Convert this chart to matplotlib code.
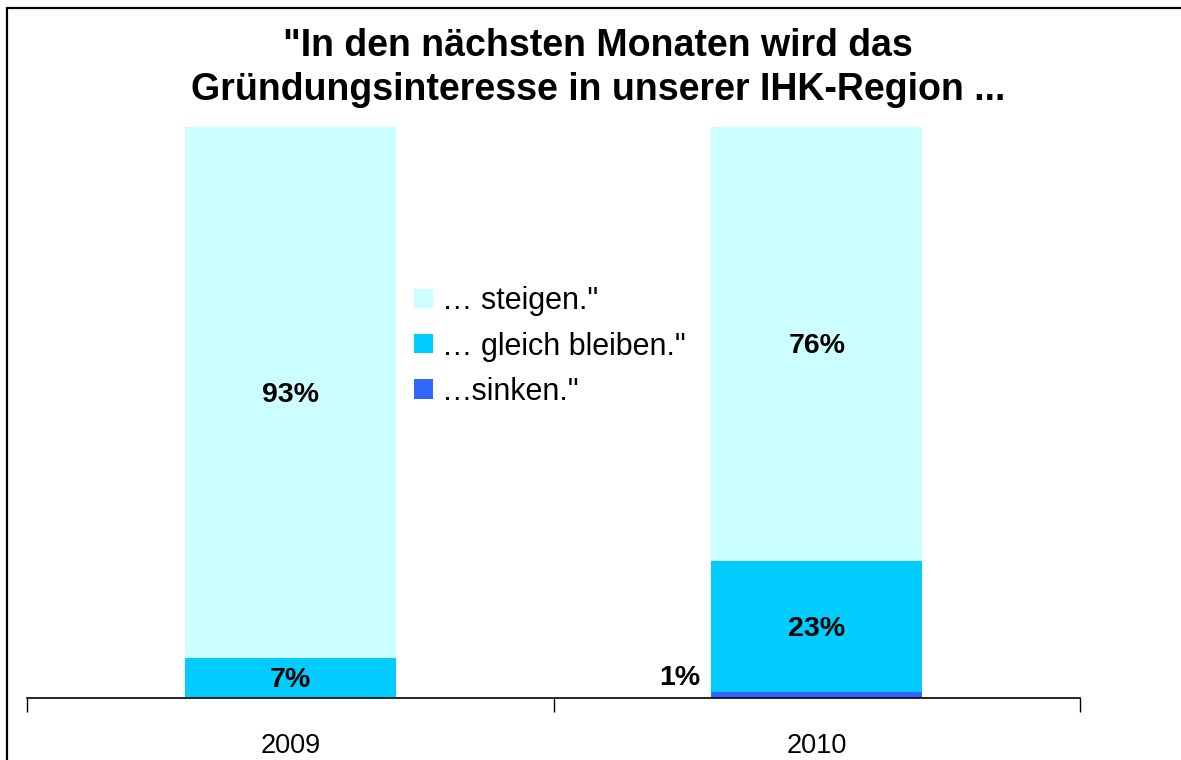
import matplotlib
matplotlib.use("Agg")
import matplotlib.pyplot as plt
import matplotlib.patches as mpatches
import matplotlib.transforms as mtrans
import numpy as np

plt.rcParams['font.family'] = ['Liberation Sans', 'DejaVu Sans']

categories = ["2009", "2010"]
series_names = ['…sinken."', '… gleich bleiben."', '… steigen."']
sinken = [0, 1]
gleich = [7, 23]
steigen = [93, 76]
colors = ["#3366FF", "#00CCFF", "#CCFFFF"]
title = '"In den nächsten Monaten wird das\nGründungsinteresse in unserer IHK-Region ...'

W, H = 1181, 760
fig = plt.figure(figsize=(W / 100, H / 100), dpi=100)
ax = fig.add_axes([27 / W, 1 - 698 / H, (1080 - 27) / W, (698 - 127) / H])

x = np.arange(len(categories))
width = 0.4
values = [sinken, gleich, steigen]
bottom = np.zeros(len(categories))
handles = []
for name, vals, col in zip(series_names, values, colors):
    vals = np.array(vals, dtype=float)
    bars = ax.bar(x, vals, width, bottom=bottom, color=col, edgecolor='none', label=name)
    handles.append(bars)
    for i, (v, b) in enumerate(zip(vals, bottom)):
        if v <= 0:
            continue
        if v < 3:
            # small segment: label sits left of the bar
            off = mtrans.offset_copy(ax.transData, fig=fig, x=-8, y=10, units='points')
            ax.text(x[i] - width / 2, b + v, f"{int(v)}%", transform=off,
                    ha='right', va='center', fontsize=20.5, fontweight='bold')
        else:
            off = mtrans.offset_copy(ax.transData, fig=fig, x=0, y=-1.5, units='points')
            ax.text(x[i], b + v / 2, f"{int(v)}%", ha='center', va='center', transform=off,
                    fontsize=20.5, fontweight='bold')
    bottom = bottom + vals

ax.set_xlim(-0.5, len(categories) - 0.5)
ax.set_ylim(0, 100)
for s in ['top', 'right', 'left']:
    ax.spines[s].set_visible(False)
ax.spines['bottom'].set_linewidth(1.2)
ax.set_yticks([])
ax.set_xticks(np.arange(-0.5, len(categories), 1.0))
ax.set_xticklabels([])
ax.tick_params(axis='x', which='major', direction='out', length=10, width=1)
ax.set_xticks(x, minor=True)
ax.set_xticklabels(categories, minor=True, fontsize=19.5)
ax.tick_params(axis='x', which='minor', length=0, pad=25)

leg = ax.legend(handles[::-1], [h.get_label() for h in handles[::-1]],
                loc='upper left', bbox_to_anchor=((402 - 27) / (1080 - 27), (698 - 274) / (698 - 127)),
                frameon=False, fontsize=22, handlelength=0.6, handleheight=0.6,
                handletextpad=0.3, labelspacing=0.5, borderaxespad=0)

fig.text(598 / W, 1 - 68 / H, title, ha='center', va='center', fontsize=27,
         fontweight='bold', linespacing=1.3)

frame = mpatches.Rectangle((7 / W, -0.2), 1.2, 0.2 + (H - 8) / H, transform=fig.transFigure,
                           fill=False, edgecolor='black', linewidth=1.6)
fig.add_artist(frame)

fig.savefig("out.png", dpi=100, facecolor='white')
